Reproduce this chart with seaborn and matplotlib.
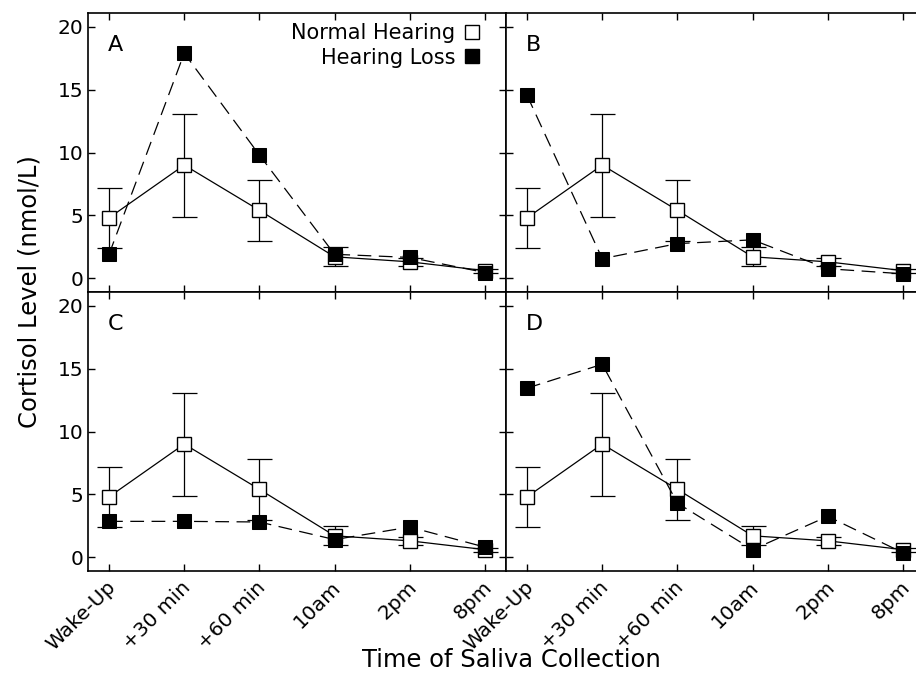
import numpy as np
import pandas as pd
import matplotlib
matplotlib.use("Agg")
import matplotlib.pyplot as plt
import matplotlib.transforms as mtransforms
import seaborn as sns
from matplotlib.lines import Line2D

# ---- data ----
times = ['Wake-Up', '+30 min', '+60 min', '10am', '2pm', '8pm']
nh_mean = [4.8, 9.0, 5.4, 1.7, 1.3, 0.6]
nh_err = [2.4, 4.1, 2.45, 0.75, 0.3, 0.15]
hl_a = [1.9, 17.9, 9.8, 1.9, 1.65, 0.45]
hl_b = [14.55, 1.55, 2.75, 3.05, 0.75, 0.35]
hl_c = [2.85, 2.85, 2.8, 1.4, 2.4, 0.8]
hl_d = [13.45, 15.35, 4.3, 0.6, 3.25, 0.35]
panel_names = ['A', 'B', 'C', 'D']
hl_panels = [hl_a, hl_b, hl_c, hl_d]
y_ticks = [0, 5, 10, 15, 20]

sns.set_theme(style="ticks", rc={
    "xtick.direction": "in", "ytick.direction": "in",
    "xtick.top": True, "ytick.right": True,
    "axes.edgecolor": "black", "axes.linewidth": 1.2,
    "text.color": "black", "xtick.color": "black", "ytick.color": "black",
    "xtick.labelcolor": "black", "ytick.labelcolor": "black",
})
plt.rcParams['font.family'] = ['DejaVu Sans']

fig = plt.figure(figsize=(9.16, 6.81), dpi=100)

left, top, bottom = 88 / 916, 1 - 13 / 681, 1 - 571 / 681
w = 418 / 916
h = (top - bottom) / 2

positions = [(left, bottom + h), (left + w, bottom + h), (left, bottom), (left + w, bottom)]
msize = 10.5

for i, (name, hl) in enumerate(zip(panel_names, hl_panels)):
    ax = fig.add_axes([positions[i][0], positions[i][1], w, h])
    df = pd.DataFrame({
        'time': times * 2,
        'cortisol': nh_mean + hl,
        'group': ['Normal Hearing'] * 6 + ['Hearing Loss'] * 6,
    })
    df['pos'] = list(range(6)) * 2

    ax.errorbar(range(6), nh_mean, yerr=nh_err, fmt='none', ecolor='black',
                elinewidth=0.9, capsize=9, capthick=0.9, zorder=1)
    sns.lineplot(data=df[df.group == 'Normal Hearing'], x='pos', y='cortisol',
                 color='black', lw=0.9, marker='s', markersize=msize,
                 markerfacecolor='white', markeredgecolor='black',
                 markeredgewidth=1.0, ax=ax, zorder=2, legend=False)
    sns.lineplot(data=df[df.group == 'Hearing Loss'], x='pos', y='cortisol',
                 color='black', lw=0.9, marker='s', markersize=msize,
                 markerfacecolor='black', markeredgecolor='black',
                 dashes=False, ax=ax, zorder=3, legend=False)
    ax.lines[-1].set_dashes([11, 6])

    ax.set_xlim(-0.28, 5.28)
    ax.set_ylim(-1.1, 21.1)
    ax.set_xticks(range(6))
    ax.set_yticks(y_ticks)
    ax.tick_params(length=5, width=1, labelsize=14.5, colors='black')
    ax.set_xlabel('')
    ax.set_ylabel('')
    if i % 2 == 1:
        ax.set_yticklabels([])
        ax.spines['right'].set_visible(False)
        ax.tick_params(right=False)
    if i < 2:
        ax.set_xticklabels([])
    else:
        ax.set_xticklabels(times, rotation=45, ha='right', rotation_mode='anchor')
        shift = mtransforms.ScaledTranslation(-3 / 100, -2 / 100, fig.dpi_scale_trans)
        for lab in ax.get_xticklabels():
            lab.set_transform(lab.get_transform() + shift)
    ax.text(0.048, 0.887, name, transform=ax.transAxes, fontsize=16, va='center', ha='left')

    if i == 0:
        handles = [
            Line2D([], [], ls='none', marker='s', markersize=msize, markerfacecolor='white',
                   markeredgecolor='black'),
            Line2D([], [], ls='none', marker='s', markersize=msize, markerfacecolor='black',
                   markeredgecolor='black'),
        ]
        ax.legend(handles, ['Normal Hearing', 'Hearing Loss'], loc='upper right',
                  markerfirst=False, frameon=False, fontsize=15, handlelength=0.8,
                  handletextpad=0.4, labelspacing=0.2, borderaxespad=0.1,
                  bbox_to_anchor=(1 - 15 / 418, 1.0))

fig.text(30 / 916, 1 - 292 / 681, 'Cortisol Level (nmol/L)', rotation=90,
         fontsize=17.5, ha='center', va='center')
fig.text(511 / 916, 1 - 660 / 681, 'Time of Saliva Collection', fontsize=17.5,
         ha='center', va='center')

fig.savefig('out.png', dpi=100)
